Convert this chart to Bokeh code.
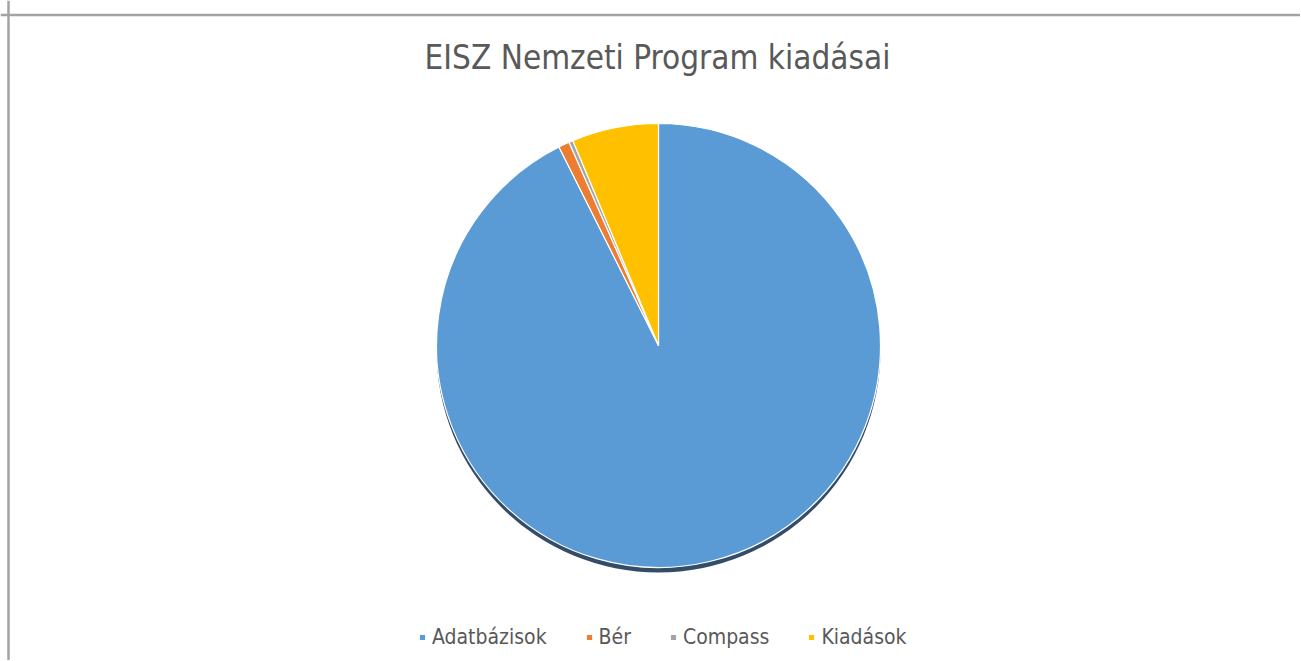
import numpy as np
from bokeh.plotting import figure
from bokeh.models import Range1d, Span, Label, Legend, LegendItem, ColumnDataSource
from bokeh.embed import file_html
from bokeh.resources import INLINE

# ---- data (shares, in %) ----
categories = ["Adatbázisok", "Bér", "Compass", "Kiadások"]
shares = [92.6, 0.8, 0.3, 6.3]
colors = ["#5B9BD5", "#ED7D31", "#A5A5A5", "#FFC000"]
title_text = "EISZ Nemzeti Program kiadásai"

FONT = "'DejaVu Sans Condensed', 'Liberation Sans Narrow', 'Roboto', sans-serif"
TXT = "#595959"

W, H = 1300, 660
cx, cy, r = 658, H - 345, 222

vals = np.array(shares, dtype=float)
frac = vals / vals.sum()
cum = np.concatenate([[0.0], np.cumsum(frac)])
start = np.pi / 2 - cum[:-1] * 2 * np.pi
end = np.pi / 2 - cum[1:] * 2 * np.pi
src = ColumnDataSource(dict(cat=categories, start=start, end=end, color=colors))

p = figure(width=W, height=H, x_range=Range1d(0, W), y_range=Range1d(0, H),
           output_backend="svg", toolbar_location=None, min_border=0)
p.axis.visible = False
p.grid.visible = False
p.outline_line_color = None
p.background_fill_color = "white"
p.border_fill_color = "white"

# chart-area border (left and top visible)
p.add_layout(Span(location=8, dimension="height", line_color="#a3a3a3", line_width=2.5))
p.add_layout(Span(location=H - 14.5, dimension="width", line_color="#a3a3a3", line_width=2.5))

# shadow under pie
p.circle(x=[cx], y=[cy - 5], radius=r, fill_color="#1d3857", line_color=None, fill_alpha=0.9)

w = p.wedge(x=cx, y=cy, radius=r, start_angle="start", end_angle="end", direction="clock",
            fill_color="color", line_color="white", line_width=1.2, source=src)

items = [LegendItem(label=c, renderers=[w], index=i) for i, c in enumerate(categories)]
legend = Legend(items=items, orientation="horizontal", location=(418, 11),
                glyph_width=8, glyph_height=8, label_text_font_size="21px",
                label_text_color=TXT, label_text_font=FONT, spacing=38, label_standoff=6,
                border_line_color=None, background_fill_alpha=0, padding=0, margin=0)
p.add_layout(legend)

p.add_layout(Label(x=657, y=H - 57, text=title_text, text_align="center",
                   text_baseline="alphabetic", text_font=FONT, text_font_size="33px",
                   text_color=TXT))

open("out.html", "w").write(file_html(p, INLINE))
